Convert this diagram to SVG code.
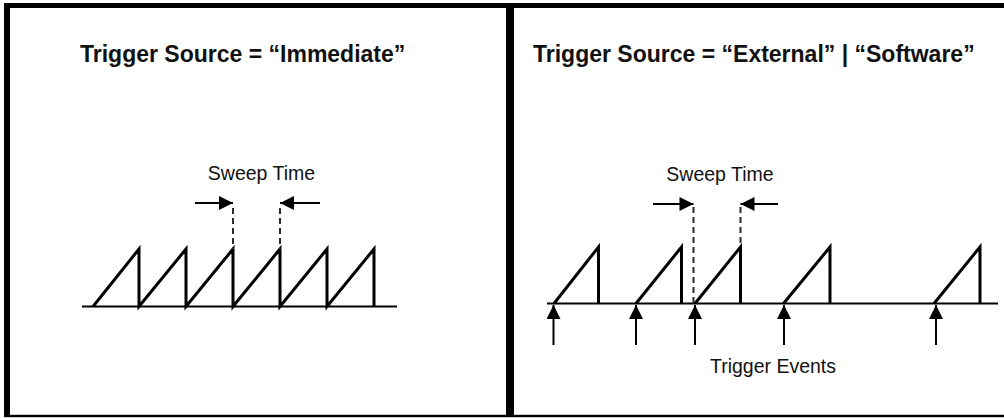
<svg xmlns="http://www.w3.org/2000/svg" width="1004" height="418" viewBox="0 0 1004 418">
<style>
.title{font-family:"Liberation Sans",Arial,sans-serif;font-weight:bold;font-size:23px;fill:#111}
.lbl{font-family:"Liberation Sans",Arial,sans-serif;font-size:19.5px;fill:#111}
.wave{fill:none;stroke:#000;stroke-width:3;stroke-linejoin:miter}
.base{stroke:#000;stroke-width:2}
.dash{stroke:#2a2a2a;stroke-width:2;stroke-dasharray:6,4}
.arr{stroke:#000;stroke-width:2;fill:none}
</style>
<defs>
<marker id="ah" viewBox="0 0 14 14" refX="14" refY="7" markerWidth="16" markerHeight="14" markerUnits="userSpaceOnUse" orient="auto">
<path d="M0,0 L14,7 L0,14 z" fill="#000"/>
</marker>
</defs>
<rect width="1004" height="418" fill="#fff"/>
<g id="frames" fill="#000">
<rect x="4" y="3" width="1000" height="5"/>
<rect x="4" y="3" width="6" height="414"/>
<rect x="4" y="414.8" width="1000" height="2.4"/>
<rect x="506" y="3" width="8" height="414"/>
</g>
<g id="title-immediate"><text class="title" x="80" y="61.5">Trigger Source = “Immediate”</text></g>
<g id="title-external"><text class="title" x="533" y="61.5">Trigger Source = “External” | “Software”</text></g>
<g id="left-wave">
<line class="base" x1="82" y1="306.5" x2="397" y2="306.5"/>
<path class="wave" d="M93,306.5 L139,249 L139,306.5 L186,249 L186,306.5 L233,249 L233,306.5 L280,249 L280,306.5 L327,249 L327,306.5 L374,249 L374,306.5"/>
</g>
<g id="left-sweep">
<text class="lbl" x="261.5" y="180" text-anchor="middle">Sweep Time</text>
</g>
<g id="right-wave">
<line class="base" x1="547" y1="303.5" x2="998" y2="303.5"/>
<path class="wave" d="M554,303.5 L598.5,247 L598.5,303.5"/>
<path class="wave" d="M636,303.5 L681.5,247 L681.5,303.5"/>
<path class="wave" d="M695,303.5 L740.5,247 L740.5,303.5"/>
<path class="wave" d="M783.5,303.5 L830,247 L830,303.5"/>
<path class="wave" d="M934,303.5 L980,247 L980,303.5"/>
</g>
<g id="right-sweep">
<text class="lbl" x="720" y="180.5" text-anchor="middle">Sweep Time</text>
</g>
<g id="trigger-events">
<text class="lbl" x="773" y="373" text-anchor="middle">Trigger Events</text>
</g>
<g id="connectors">
<line class="dash" x1="233" y1="208" x2="233" y2="249"/>
<line class="dash" x1="280" y1="208" x2="280" y2="249"/>
<line class="arr" x1="195" y1="203" x2="233" y2="203" marker-end="url(#ah)"/>
<line class="arr" x1="320" y1="203" x2="280" y2="203" marker-end="url(#ah)"/>
<line class="dash" x1="693.5" y1="207" x2="693.5" y2="303"/>
<line class="dash" x1="740.5" y1="207" x2="740.5" y2="247"/>
<line class="arr" x1="653" y1="204" x2="693.5" y2="204" marker-end="url(#ah)"/>
<line class="arr" x1="778" y1="204" x2="740.5" y2="204" marker-end="url(#ah)"/>
<line class="arr" x1="553.5" y1="345" x2="553.5" y2="305" marker-end="url(#ah)"/>
<line class="arr" x1="636" y1="345" x2="636" y2="305" marker-end="url(#ah)"/>
<line class="arr" x1="695" y1="345" x2="695" y2="305" marker-end="url(#ah)"/>
<line class="arr" x1="784" y1="345" x2="784" y2="305" marker-end="url(#ah)"/>
<line class="arr" x1="936" y1="345" x2="936" y2="305" marker-end="url(#ah)"/>
</g>
</svg>
